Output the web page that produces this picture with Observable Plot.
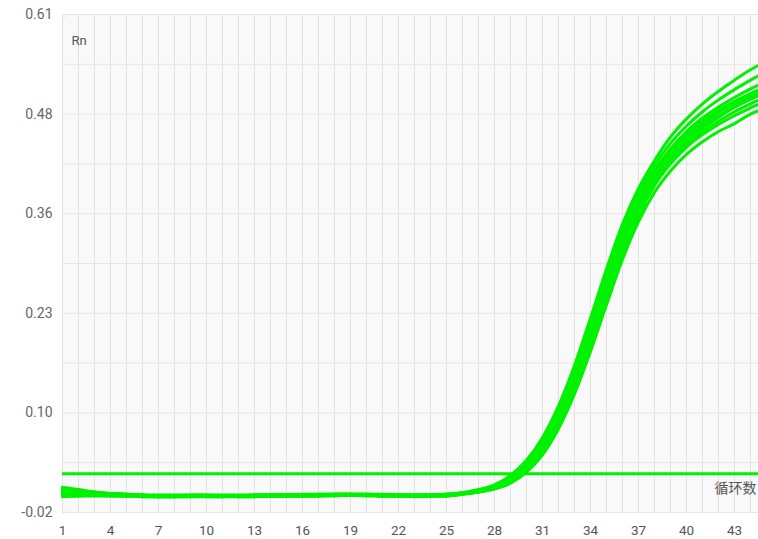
<!DOCTYPE html>
<html>
<head>
<meta charset="utf-8">
<script src="https://cdn.jsdelivr.net/npm/d3@7"></script>
<script src="https://cdn.jsdelivr.net/npm/@observablehq/plot@0.6"></script>
<style>
  html, body { margin: 0; padding: 0; background: #fff; overflow: hidden; }
  #chart { width: 758px; height: 539px; overflow: hidden; }
  #chart svg { max-width: none !important; display: block; }
</style>
</head>
<body>
<div id="chart"></div>
<script>
// cycle numbers 1..45
const cycles = [1,2,3,4,5,6,7,8,9,10,11,12,13,14,15,16,17,18,19,20,21,22,23,24,25,26,27,28,29,30,31,32,33,34,35,36,37,38,39,40,41,42,43,44,45];

// amplification curves (Rn per cycle)
const wellT = [0.012,0.009,0.006,0.004,0.003,0.002,0.001,0.001,0.002,0.002,0.001,0.001,0.001,0.002,0.002,0.002,0.002,0.003,0.003,0.003,0.002,0.002,0.002,0.002,0.003,
  0.005,0.009,0.015,0.027,0.046,0.075,0.115,0.166,0.226,0.288,0.345,0.390,0.425,0.455,0.478,0.497,0.513,0.527,0.540,0.551];
const wellS = [0.004,0.004,0.003,0.003,0.002,0.001,0.000,0.001,0.001,0.001,0.001,0.001,0.002,0.002,0.002,0.002,0.003,0.003,0.003,0.002,0.002,0.002,0.002,0.002,0.003,
  0.005,0.008,0.014,0.025,0.043,0.071,0.110,0.160,0.219,0.281,0.338,0.384,0.419,0.447,0.469,0.487,0.502,0.515,0.527,0.538];
const wellA = [0.009,0.007,0.005,0.004,0.003,0.002,0.001,0.001,0.001,0.001,0.001,0.001,0.001,0.001,0.002,0.002,0.002,0.002,0.003,0.003,0.002,0.001,0.001,0.001,0.002,
  0.004,0.008,0.013,0.023,0.040,0.067,0.104,0.152,0.209,0.270,0.328,0.376,0.412,0.440,0.462,0.479,0.493,0.505,0.516,0.525];
const wellB = [0.001,0.001,0.002,0.002,0.001,0.001,0.000,0.000,0.001,0.001,0.001,0.001,0.001,0.001,0.001,0.002,0.002,0.002,0.002,0.002,0.002,0.001,0.001,0.001,0.002,
  0.004,0.007,0.012,0.021,0.037,0.063,0.099,0.146,0.202,0.263,0.322,0.370,0.405,0.432,0.453,0.469,0.482,0.493,0.503,0.511];
const wellC = [0.006,0.005,0.004,0.003,0.002,0.001,0.001,0.000,0.000,0.001,0.001,0.000,0.001,0.001,0.001,0.001,0.001,0.002,0.002,0.002,0.001,0.001,0.001,0.001,0.001,
  0.003,0.006,0.010,0.017,0.031,0.053,0.086,0.130,0.184,0.244,0.304,0.355,0.394,0.424,0.447,0.465,0.480,0.493,0.504,0.514];
const wellD = [0.011,0.008,0.006,0.004,0.003,0.002,0.002,0.002,0.002,0.002,0.002,0.002,0.002,0.002,0.002,0.003,0.003,0.003,0.003,0.003,0.003,0.002,0.002,0.002,0.003,
  0.005,0.008,0.014,0.025,0.043,0.071,0.110,0.159,0.217,0.278,0.334,0.379,0.413,0.439,0.459,0.475,0.489,0.500,0.510,0.519];
const wellE = [0.000,0.001,0.001,0.001,0.001,0.000,0.000,0.000,0.000,0.000,0.000,0.000,0.000,0.001,0.001,0.001,0.001,0.001,0.002,0.001,0.001,0.001,0.000,0.001,0.002,
  0.004,0.006,0.011,0.019,0.034,0.058,0.093,0.139,0.194,0.255,0.314,0.363,0.400,0.428,0.450,0.467,0.481,0.493,0.503,0.512];
const wellF = [0.007,0.006,0.004,0.003,0.002,0.001,0.001,0.001,0.001,0.001,0.001,0.001,0.002,0.002,0.002,0.002,0.002,0.003,0.003,0.002,0.002,0.002,0.001,0.002,0.002,
  0.004,0.007,0.012,0.022,0.039,0.066,0.103,0.150,0.207,0.268,0.326,0.373,0.408,0.435,0.456,0.472,0.486,0.497,0.507,0.516];
const wellH = [0.003,0.003,0.002,0.002,0.001,0.001,0.001,0.001,0.001,0.001,0.000,0.001,0.001,0.001,0.001,0.001,0.002,0.002,0.002,0.002,0.001,0.001,0.001,0.001,0.002,
  0.004,0.007,0.011,0.020,0.036,0.061,0.096,0.142,0.198,0.259,0.317,0.364,0.399,0.425,0.445,0.461,0.475,0.487,0.497,0.506];
const wellM = [0.002,0.002,0.002,0.001,0.001,0.000,0.000,0.000,0.001,0.001,0.001,0.000,0.000,0.001,0.001,0.001,0.001,0.002,0.002,0.002,0.001,0.001,0.001,0.001,0.001,
  0.004,0.007,0.011,0.020,0.035,0.059,0.094,0.139,0.194,0.254,0.311,0.358,0.394,0.421,0.442,0.458,0.471,0.482,0.492,0.500];
const wellL = [0.008,0.006,0.004,0.003,0.002,0.001,0.001,0.001,0.001,0.000,0.000,0.001,0.001,0.001,0.001,0.001,0.002,0.002,0.002,0.002,0.001,0.001,0.001,0.001,0.001,
  0.003,0.006,0.010,0.018,0.032,0.055,0.088,0.132,0.185,0.243,0.300,0.348,0.385,0.412,0.433,0.449,0.462,0.472,0.484,0.492];

const threshold = 0.029;

const yTicks = [-0.02, 0.106, 0.232, 0.358, 0.484, 0.61];
const yTickLabels = ["-0.02", "0.10", "0.23", "0.36", "0.48", "0.61"];
const xTicks = [1, 4, 7, 10, 13, 16, 19, 22, 25, 28, 31, 34, 37, 40, 43];
const yLabel = "Rn";
const xLabel = "循环数";

// build long table
const wells = {T: wellT, S: wellS, A: wellA, B: wellB, C: wellC, D: wellD, E: wellE, F: wellF, H: wellH, M: wellM, L: wellL};
const rows = [];
for (const [name, vals] of Object.entries(wells)) {
  vals.forEach((v, i) => rows.push({well: name, cycle: cycles[i], rn: v}));
}
const labelMap = new Map(yTicks.map((t, i) => [t, yTickLabels[i]]));
// horizontal grid at labelled ticks and halfway between them
const yGrid = [];
yTicks.forEach((t, i) => { yGrid.push(t); if (i < yTicks.length - 1) yGrid.push((t + yTicks[i + 1]) / 2); });
const xGrid = cycles;

const font = "Roboto, 'Liberation Sans', sans-serif";
const green = "#00f200";

const chart = Plot.plot({
  width: 766,
  height: 539,
  marginLeft: 62,
  marginRight: 0,
  marginTop: 14,
  marginBottom: 27,
  style: {fontFamily: font, background: "#ffffff", overflow: "visible"},
  x: {domain: [1, 45]},
  y: {domain: [-0.02, 0.61]},
  marks: [
    Plot.frame({fill: "#f9f9f9", stroke: "#ececec", rx: 8}),
    Plot.gridX(xGrid, {stroke: "#e2e2e2", strokeOpacity: 1, strokeWidth: 1}),
    Plot.gridY(yGrid, {stroke: "#e6e6e6", strokeOpacity: 1, strokeWidth: 1}),
    Plot.axisY(yTicks, {tickSize: 0, tickPadding: 10, fontSize: 14, fill: "#666", tickFormat: d => labelMap.get(d), label: null}),
    Plot.axisX(xTicks, {tickSize: 0, tickPadding: 13, fontSize: 13.5, fill: "#555", label: null}),
    Plot.ruleY([threshold], {stroke: green, strokeWidth: 3}),
    Plot.line(rows, {x: "cycle", y: "rn", z: "well", stroke: green, strokeWidth: 3, curve: "monotone-x"}),
    Plot.text([yLabel], {frameAnchor: "top-left", dx: 9, dy: 21, textAnchor: "start", fontSize: 13, fill: "#555"}),
    Plot.text([xLabel], {frameAnchor: "bottom-right", dx: -10, dy: -20, textAnchor: "end", fontSize: 14, fill: "#555", fontFamily: "'Noto Sans CJK SC', sans-serif"})
  ]
});
document.getElementById("chart").appendChild(chart);
</script>
</body>
</html>
